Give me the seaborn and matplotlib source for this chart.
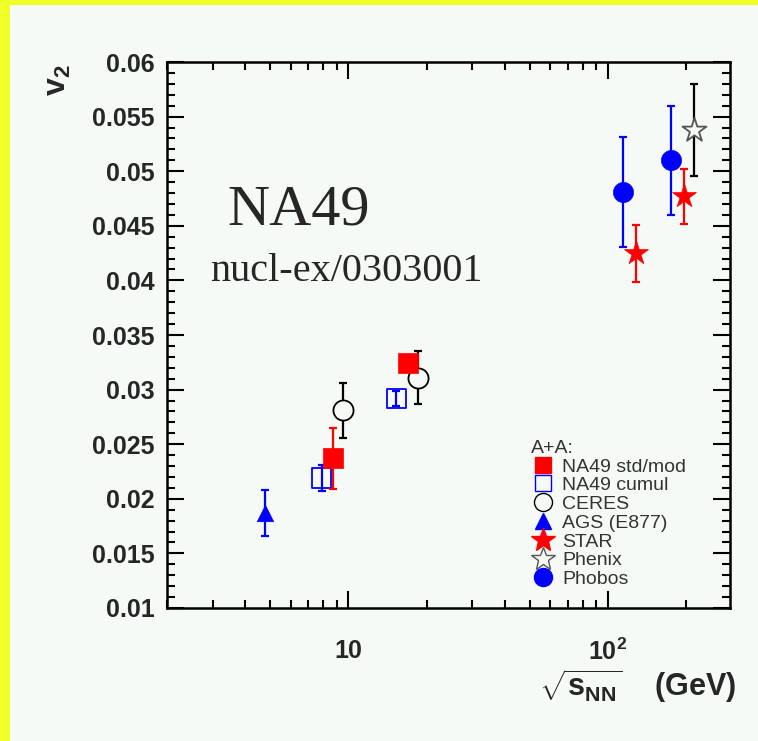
import numpy as np
import pandas as pd
import matplotlib
matplotlib.use('Agg')
import matplotlib.pyplot as plt
import seaborn as sns
from matplotlib.lines import Line2D
from matplotlib.patches import Rectangle
from matplotlib.ticker import MultipleLocator, FixedLocator, FixedFormatter, LogLocator, NullFormatter

# data (sqrt(s_NN) in GeV, v2, error)
na49_std_x = [8.7, 17.0]
na49_std_y = [0.0237, 0.0324]
na49_std_err = [0.0028, 0.0007]

na49_cum_x = [7.9, 15.3]
na49_cum_y = [0.0219, 0.0292]
na49_cum_err = [0.0012, 0.0007]

ceres_x = [9.5, 18.5]
ceres_y = [0.0281, 0.0311]
ceres_err = [0.0025, 0.0024]

ags_x = [4.75]
ags_y = [0.0187]
ags_err = [0.0021]

star_x = [128, 196]
star_y = [0.0425, 0.0477]
star_err = [0.0026, 0.0025]

phenix_x = [215]
phenix_y = [0.0538]
phenix_err = [0.0042]

phobos_x = [114, 175]
phobos_y = [0.0481, 0.0510]
phobos_err = [0.0050, 0.0050]

bg = '#f6faf6'
yellow = '#f0ff28'

sns.set_style('ticks')
plt.rcParams['font.family'] = ['Liberation Sans', 'DejaVu Sans']
plt.rcParams['mathtext.fontset'] = 'custom'
plt.rcParams['mathtext.rm'] = 'Liberation Sans'
plt.rcParams['mathtext.bf'] = 'Liberation Sans:bold'

fig = plt.figure(figsize=(7.58, 7.41), dpi=100)
fig.patch.set_facecolor(yellow)
fig.add_artist(Rectangle((10 / 758, 0), 1, 1 - 5 / 741, transform=fig.transFigure,
                         facecolor=bg, edgecolor='none', zorder=0))
ax = fig.add_axes([0.2203, 0.1795, 0.7427, 0.7368])
ax.set_facecolor(bg)

# experiments: (label, x, y, err, marker, size, face, edge, err colour)
groups = [
    ('NA49 cumul', na49_cum_x, na49_cum_y, na49_cum_err, 's', 190, 'none', 'blue', 'blue'),
    ('CERES', ceres_x, ceres_y, ceres_err, 'o', 210, bg, 'black', 'black'),
    ('NA49 std/mod', na49_std_x, na49_std_y, na49_std_err, 's', 190, 'red', 'red', 'red'),
    ('AGS (E877)', ags_x, ags_y, ags_err, '^', 140, 'blue', 'blue', 'blue'),
    ('Phobos', phobos_x, phobos_y, phobos_err, 'o', 210, 'blue', 'blue', 'blue'),
    ('STAR', star_x, star_y, star_err, '*', 330, 'red', 'red', 'red'),
    ('Phenix', phenix_x, phenix_y, phenix_err, '*', 330, bg, '#555555', 'black'),
]

for i, (lab, x, y, e, m, s, fc, ec, erc) in enumerate(groups):
    df = pd.DataFrame({'x': x, 'y': y, 'err': e})
    ax.errorbar(df['x'], df['y'], yerr=df['err'], fmt='none', ecolor=erc,
                elinewidth=1.6, capsize=3, capthick=1.6, zorder=2 + i)
    sns.scatterplot(data=df, x='x', y='y', marker=m, s=s, facecolors=fc,
                    edgecolor=ec, linewidth=1.3 if fc in ('none', bg) else 0.5,
                    ax=ax, zorder=2.5 + i, legend=False)

ax.set_xscale('log')
ax.set_xlim(2.0, 295)
ax.set_ylim(0.01, 0.06)

ax.yaxis.set_major_locator(MultipleLocator(0.005))
ax.yaxis.set_minor_locator(MultipleLocator(0.001))
ax.set_yticklabels([f'{v:g}' for v in ax.get_yticks()])
ax.xaxis.set_major_locator(FixedLocator([10, 100]))
ax.xaxis.set_major_formatter(FixedFormatter(['10', r'$\mathbf{10^{2}}$']))
ax.xaxis.set_minor_locator(LogLocator(base=10, subs=np.arange(2, 10)))
ax.xaxis.set_minor_formatter(NullFormatter())

ax.tick_params(which='both', direction='in', top=True, right=True, width=1.5, color='black')
ax.tick_params(which='major', length=12)
ax.tick_params(which='minor', length=6)
ax.tick_params(axis='y', which='major', labelsize=18, pad=9)
ax.tick_params(axis='x', which='major', labelsize=18, pad=22)
for t in ax.get_xticklabels() + ax.get_yticklabels():
    t.set_fontweight('bold')
for sp in ax.spines.values():
    sp.set_linewidth(1.8)
    sp.set_color('black')
ax.set_xlabel('')
ax.set_ylabel('')

fig.text(58 / 758, 1 - 80 / 741, r'$\mathbf{v_{2}}$', rotation=90, fontsize=23,
         ha='center', va='center')
fig.text(736 / 758, 1 - 686 / 741, r'$\sqrt{\mathbf{s}_{\mathbf{NN}}}$' + '    (GeV)',
         fontsize=22, fontweight='bold', ha='right', va='center')

ax.text(0.108, 0.728, 'NA49', transform=ax.transAxes, fontsize=42,
        family='Liberation Serif', ha='left', va='center')
ax.text(0.076, 0.617, 'nucl-ex/0303001', transform=ax.transAxes, fontsize=29,
        family='Liberation Serif', ha='left', va='center')

handles = [
    Line2D([], [], ls='none', marker='s', ms=12, mfc='red', mec='red'),
    Line2D([], [], ls='none', marker='s', ms=12, mfc='none', mec='blue', mew=1.0),
    Line2D([], [], ls='none', marker='o', ms=13, mfc='none', mec='black', mew=1.0),
    Line2D([], [], ls='none', marker='^', ms=12, mfc='blue', mec='blue'),
    Line2D([], [], ls='none', marker='*', ms=18, mfc='red', mec='red'),
    Line2D([], [], ls='none', marker='*', ms=18, mfc='none', mec='#555555', mew=1.0),
    Line2D([], [], ls='none', marker='o', ms=13, mfc='blue', mec='blue'),
]
labels = ['NA49 std/mod', 'NA49 cumul', 'CERES', 'AGS (E877)', 'STAR', 'Phenix', 'Phobos']
leg = ax.legend(handles, labels, title='A+A:', loc='upper left',
                bbox_to_anchor=(0.63, 0.326), frameon=False, fontsize=14,
                title_fontsize=14, labelspacing=0.06, handlelength=1.2,
                handletextpad=0.4, borderpad=0, alignment='left')
for t in leg.get_texts():
    t.set_color('#333333')
leg.get_title().set_color('#333333')

plt.savefig('out.png', dpi=100, facecolor=fig.get_facecolor())
